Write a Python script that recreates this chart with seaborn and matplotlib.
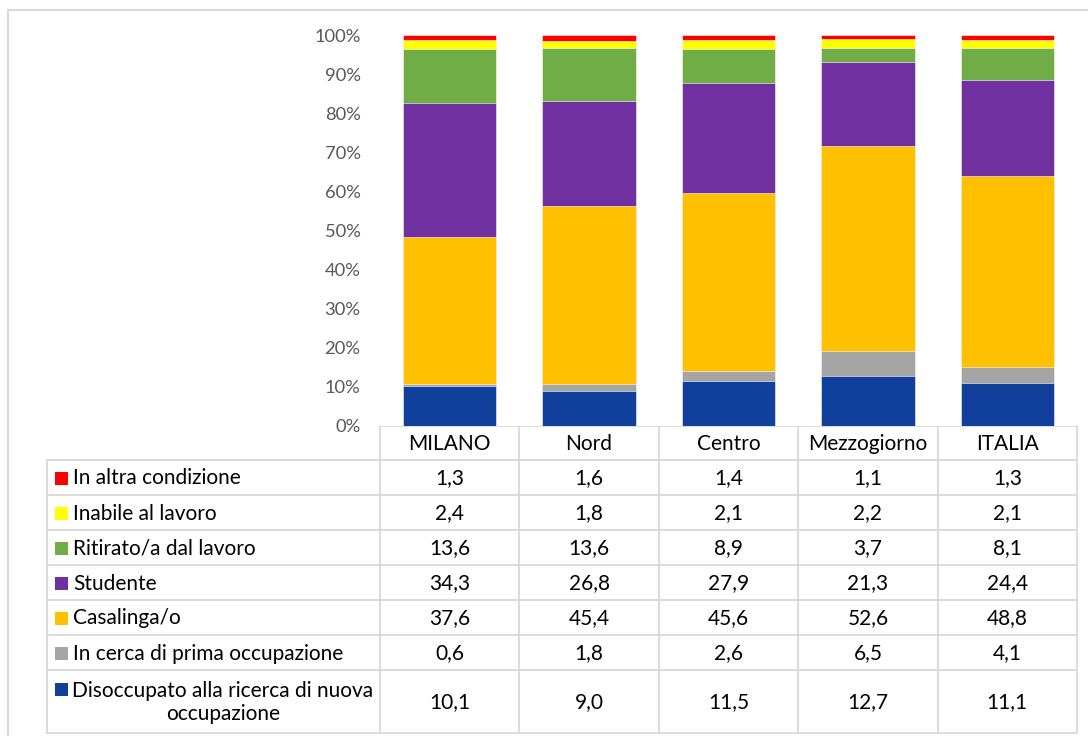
import matplotlib
matplotlib.use("Agg")
import matplotlib.pyplot as plt
import seaborn as sns
import pandas as pd
import numpy as np
from matplotlib.patches import Rectangle

categories = ["MILANO", "Nord", "Centro", "Mezzogiorno", "ITALIA"]

# series, listed bottom to top of the stack
disoccupato = [10.1, 9.0, 11.5, 12.7, 11.1]
in_cerca = [0.6, 1.8, 2.6, 6.5, 4.1]
casalinga = [37.6, 45.4, 45.6, 52.6, 48.8]
studente = [34.3, 26.8, 27.9, 21.3, 24.4]
ritirato = [13.6, 13.6, 8.9, 3.7, 8.1]
inabile = [2.4, 1.8, 2.1, 2.2, 2.1]
altra = [1.3, 1.6, 1.4, 1.1, 1.3]

series_names = [
    "Disoccupato alla ricerca di nuova\noccupazione",
    "In cerca di prima occupazione",
    "Casalinga/o",
    "Studente",
    "Ritirato/a dal lavoro",
    "Inabile al lavoro",
    "In altra condizione",
]
series_values = [disoccupato, in_cerca, casalinga, studente, ritirato, inabile, altra]
colors = ["#11409C", "#A5A5A5", "#FFC000", "#7030A0", "#70AD47", "#FFFF00", "#FF0000"]

sns.set_theme(style="white")
plt.rcParams["font.family"] = ["Lato", "DejaVu Sans"]

W, H = 1088, 736
fig = plt.figure(figsize=(W / 100, H / 100), dpi=100)

# layout in pixels
x0, x1 = 380, 1077
y_zero, y_top = 426, 35
ax = fig.add_axes([x0 / W, (H - y_zero) / H, (x1 - x0) / W, (y_zero - y_top) / H])

vals = np.array(series_values, dtype=float)
totals = vals.sum(axis=0)
cum = np.cumsum(vals, axis=0) / totals

# draw cumulative layers from top to bottom so lower layers overlay
for i in range(len(series_names) - 1, -1, -1):
    df = pd.DataFrame({"cat": categories, "cum": cum[i]})
    sns.barplot(data=df, x="cat", y="cum", order=categories, color=colors[i],
                width=0.67, ax=ax, saturation=1, edgecolor="white", linewidth=0.4)

ax.set_xlim(-0.5, len(categories) - 0.5)
ax.set_ylim(0, 1)
ticks = np.arange(0, 1.01, 0.1)
ax.set_yticks(ticks)
ax.set_yticklabels([f"{int(round(t*100))}%" for t in ticks], color="#595959", fontsize=13.2)
ax.tick_params(axis="y", length=0, pad=14)
ax.set_xticks([])
ax.set_xlabel("")
ax.set_ylabel("")
for s in ax.spines.values():
    s.set_visible(False)

# overlay for table in pixel coordinates
ov = fig.add_axes([0, 0, 1, 1], zorder=-1)
ov.set_xlim(0, W)
ov.set_ylim(H, 0)
ov.axis("off")
ov.patch.set_alpha(0)

line_c = "#D9D9D9"
fs = 15
# outer chart frame
ov.plot([8, W], [10, 10], color=line_c, lw=1.5)
ov.plot([8, 8], [10, H], color=line_c, lw=1.5)

n = len(categories)
colw = (x1 - x0) / n
col_edges = [x0 + colw * k for k in range(n + 1)]
tab_left = 47
header_top, header_bot = 426, 460
row_edges = [460, 495, 530, 565, 600, 635, 670, 733]

# header row
ov.plot([x0, x1], [header_top, header_top], color=line_c, lw=1.3)
for xe in col_edges:
    ov.plot([xe, xe], [header_top, row_edges[-1]], color=line_c, lw=1.3)
for k, c in enumerate(categories):
    ov.text((col_edges[k] + col_edges[k + 1]) / 2, (header_top + header_bot) / 2 + 1, c,
            ha="center", va="center", fontsize=fs, color="#000000")

# body rows
for ye in row_edges:
    ov.plot([tab_left, x1], [ye, ye], color=line_c, lw=1.3)
ov.plot([tab_left, tab_left], [row_edges[0], row_edges[-1]], color=line_c, lw=1.3)

table_order = list(range(len(series_names) - 1, -1, -1))  # top row = top series
for r, si in enumerate(table_order):
    yt, yb = row_edges[r], row_edges[r + 1]
    yc = (yt + yb) / 2 + 1
    name = series_names[si]
    if "\n" in name:
        ov.add_patch(Rectangle((55, 683), 13, 13, color=colors[si], lw=0))
        ov.text(223, yc, name, ha="center", va="center", fontsize=fs,
                multialignment="center", color="#000000", linespacing=1.2)
    else:
        ov.add_patch(Rectangle((55, yc - 7), 13, 13, color=colors[si], lw=0))
        ov.text(73, yc, name, ha="left", va="center", fontsize=fs, color="#000000")
    for k in range(n):
        ov.text((col_edges[k] + col_edges[k + 1]) / 2, yc,
                f"{series_values[si][k]:.1f}".replace(".", ","),
                ha="center", va="center", fontsize=fs, color="#000000")

fig.savefig("out.png", dpi=100)
